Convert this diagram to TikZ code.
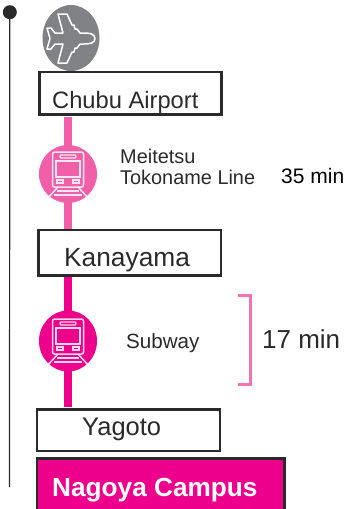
\documentclass[tikz,border=0pt]{standalone}
\usepackage{fontspec}
\usetikzlibrary{shapes.geometric,backgrounds}
\setmainfont{Liberation Sans}
\definecolor{ink}{HTML}{2B2A2B}
\definecolor{lpink}{HTML}{F15FA8}
\definecolor{mag}{HTML}{EC008C}
\definecolor{brk}{HTML}{F472B0}
\definecolor{planeg}{HTML}{808285}
\tikzset{
 stationbox/.style={draw=ink,line width=2.4pt,fill=white,inner sep=0pt,outer sep=0pt,anchor=north west},
 lbl/.style={anchor=base west,inner sep=0pt,text=ink},
 segment/.style={line width=7.5pt},
 trainln/.style={draw=white,line width=1.5pt,fill=none,opacity=.85},
 pics/trainicon/.style={code={
  \draw[trainln,rounded corners=2pt] (-15.5,-22) rectangle (15.5,13);
  \draw[trainln,line width=1.1pt,rounded corners=1pt] (-8,-19) rectangle (8,-16);
  \draw[trainln,line width=1.2pt] (-12,-13) -- (12,-13) -- (12,3) -- (-12,3) -- cycle;
  \draw[trainln,line width=1.1pt] (-11,6) rectangle (-5,9);
  \draw[trainln,line width=1.1pt] (5,6) rectangle (11,9);
  \draw[trainln] (-10,13) -- (-21,25) (10,13) -- (21,25);
  \draw[trainln,line width=1.2pt] (-11,17) -- (11,17) (-14,21) -- (14,21);
 }}
}
\begin{document}
\begin{tikzpicture}[x=1pt,y=-1pt]
\useasboundingbox (0,0) rectangle (347,509);
% timeline
\node[circle,fill=ink,minimum size=14pt,inner sep=0pt] (dot) at (9.8,12.2) {};
\coordinate (tlend) at (9.5,487);
% stations
\node[stationbox,minimum width=182pt,minimum height=42.3pt] (chubu) at (39.5,72.2) {};
\node[stationbox,minimum width=182.5pt,minimum height=45.3pt] (kana) at (38.5,230.2) {};
\node[stationbox,minimum width=183pt,minimum height=41.5pt] (yago) at (37.2,409.5) {};
\node[stationbox,fill=mag,minimum width=247.3pt,minimum height=55pt] (nagoya) at (37.2,458.5) {};
% line circles
\node[circle,fill=lpink,minimum width=58pt,inner sep=0pt] (c1) at (68,174) {};
\node[ellipse,fill=mag,minimum width=58pt,minimum height=61pt,inner sep=0pt] (c2) at (68,341) {};
\begin{scope}[on background layer]
\fill[white] (0,0) rectangle (347,509);
\draw[ink,line width=1.2pt] (dot.center) -- (tlend);
\draw[lpink,segment,shorten <=2pt] (chubu.south -| c1.center) -- (c1.center);
\draw[lpink,segment] (c1.center) -- (kana.north -| c1.center);
\draw[mag,segment] (kana.south -| c2.center) -- (c2.center);
\draw[mag,segment,shorten >=2.5pt] (c2.center) -- (yago.north -| c2.center);
\end{scope}
\pic at (c1.center) {trainicon};
\pic at (c2.center) {trainicon};
% plane
\node[ellipse,fill=planeg,minimum width=57pt,minimum height=66pt,inner sep=0pt] (pl) at (71,38) {};
\draw[white,line width=1.5pt,line join=round,fill=planeg]
 (95,38.5) .. controls (95,34) and (90,33) .. (84,33) -- (80,33)
 -- (77,29) -- (75,29) -- (74,25) -- (72,25) -- (67,14) -- (58,14) -- (63,33) -- (55,33)
 -- (51,28) -- (47,28) -- (50,38.5) -- (47,49) -- (51,49) -- (55,44) -- (63,44)
 -- (58,63) -- (67,63) -- (72,52) -- (74,52) -- (75,48) -- (77,48) -- (80,44) -- (84,44)
 .. controls (90,44) and (95,43) .. (95,38.5) -- cycle;
% labels
\node[lbl,font=\fontsize{23.7}{24}\selectfont] (t1) at (52,108) {Chubu Airport};
\node[lbl,font=\fontsize{26.3}{26}\selectfont] (t2) at (64,266) {Kanayama};
\node[lbl,font=\fontsize{25.5}{26}\selectfont] (t3) at (82,435) {Yagoto};
\node[lbl,text=white,font=\bfseries\fontsize{26.2}{26}\selectfont] (t4) at (52,496) {Nagoya Campus};
\node[lbl,font=\fontsize{19.9}{20}\selectfont] (t5) at (120,163.5) {Meitetsu};
\node[lbl,font=\fontsize{19.9}{20}\selectfont] (t6) at (120,184.5) {Tokoname Line};
\node[lbl,text=black,font=\fontsize{21}{21}\selectfont] (t7) at (281,183) {35 min};
\node[lbl,font=\fontsize{20.6}{21}\selectfont] (t8) at (126,348) {Subway};
\node[lbl,font=\fontsize{26}{26}\selectfont] (t9) at (262,348) {17 min};
% bracket
\coordinate (b1) at (238,295.5);
\coordinate (b2) at (250.5,295.5);
\coordinate (b3) at (250.5,384.5);
\coordinate (b4) at (238,384.5);
\draw[brk,line width=2.2pt] (b1) -- (b2) -- (b3) -- (b4);
\end{tikzpicture}
\end{document}
